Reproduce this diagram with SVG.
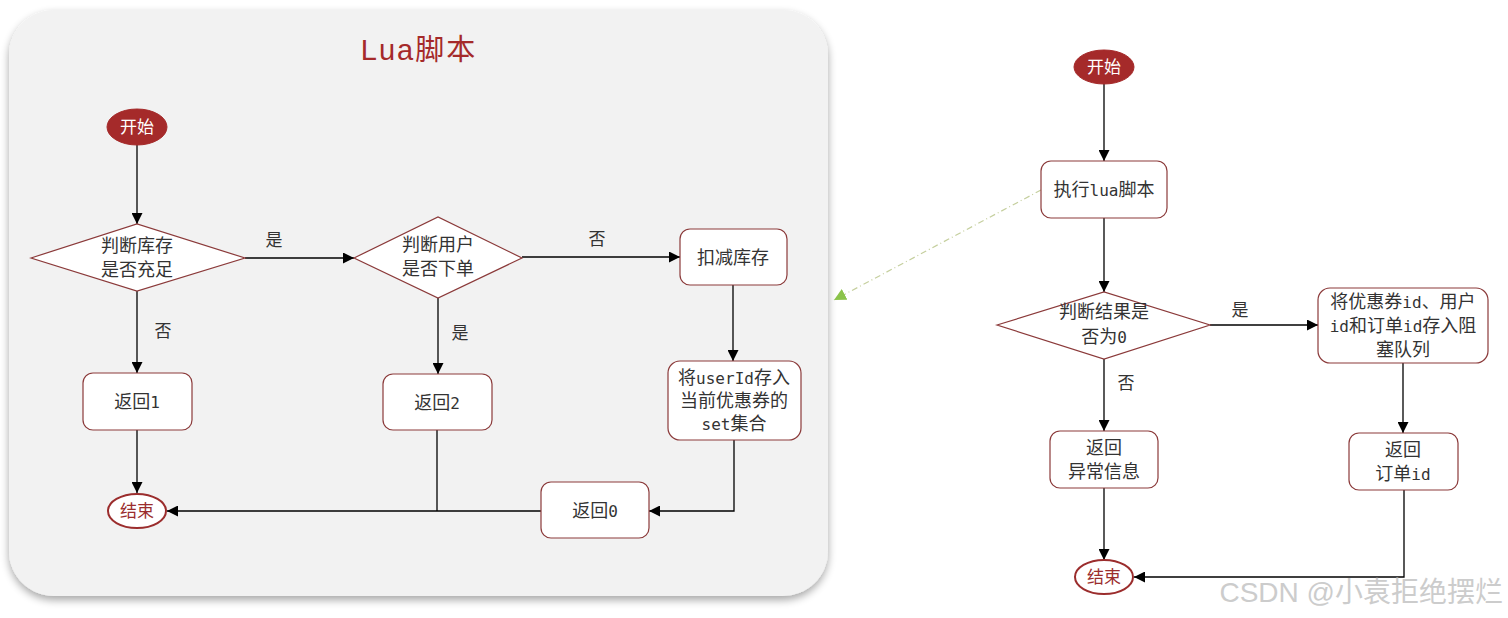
<svg xmlns="http://www.w3.org/2000/svg" width="1508" height="618" viewBox="0 0 1508 618">
<style>
.box{fill:#ffffff;stroke:#8b3a3a;stroke-width:1.2}
.dia{fill:#ffffff;stroke:#8b3a3a;stroke-width:1.2}
.t{font-family:"Noto Sans CJK SC",sans-serif;font-size:18px;fill:#333333;text-anchor:middle}
.m{font-family:"DejaVu Sans Mono","Liberation Mono",monospace;font-size:16px}
.lbl{font-family:"Noto Sans CJK SC",sans-serif;font-size:17px;fill:#333333;text-anchor:middle}
.line{fill:none;stroke:#000000;stroke-width:1.3}
.start{fill:#a52a2a;stroke:#a52a2a}
.end{fill:#ffffff;stroke:#9b2d2d;stroke-width:2}
</style>
<defs>
<marker id="arr" viewBox="0 0 10 10" refX="10" refY="5" markerWidth="11" markerHeight="11" markerUnits="userSpaceOnUse" orient="auto">
<path d="M0,0 L10,5 L0,10 z" fill="#000"/>
</marker>
<marker id="garr" viewBox="0 0 10 10" refX="10" refY="5" markerWidth="12" markerHeight="12" markerUnits="userSpaceOnUse" orient="auto">
<path d="M0,0 L10,5 L0,10 z" fill="#8bc34a"/>
</marker>
<filter id="sh" x="-5%" y="-5%" width="110%" height="112%">
<feGaussianBlur in="SourceAlpha" stdDeviation="4"/>
<feOffset dx="0" dy="4" result="b"/>
<feComponentTransfer><feFuncA type="linear" slope="0.35"/></feComponentTransfer>
<feMerge><feMergeNode/><feMergeNode in="SourceGraphic"/></feMerge>
</filter>
</defs>
<rect width="1508" height="618" fill="#ffffff"/>
<g id="panel">
<rect x="9" y="10" width="819" height="586" rx="45" ry="45" fill="#f2f2f2" filter="url(#sh)"/>
<text x="419" y="60" font-family="'Liberation Sans','Noto Sans CJK SC',sans-serif" font-size="29" fill="#a52a2a" text-anchor="middle" letter-spacing="2">Lua脚本</text>
</g>
<g id="connectors">
<path class="line" d="M137,145 V224" marker-end="url(#arr)"/>
<path class="line" d="M245,258 H354" marker-end="url(#arr)"/>
<path class="line" d="M522,257 H680" marker-end="url(#arr)"/>
<path class="line" d="M733,285 V361" marker-end="url(#arr)"/>
<path class="line" d="M137,291 V373" marker-end="url(#arr)"/>
<path class="line" d="M438,298 V374" marker-end="url(#arr)"/>
<path class="line" d="M137,430 V493" marker-end="url(#arr)"/>
<path class="line" d="M437,430 V511"/>
<path class="line" d="M541,511 H167" marker-end="url(#arr)"/>
<path class="line" d="M734,440 V511 H649" marker-end="url(#arr)"/>
<path class="line" d="M1104,84 V161" marker-end="url(#arr)"/>
<path class="line" d="M1104,218 V292" marker-end="url(#arr)"/>
<path class="line" d="M1210,325 H1318" marker-end="url(#arr)"/>
<path class="line" d="M1403,363 V433" marker-end="url(#arr)"/>
<path class="line" d="M1104,359 V431" marker-end="url(#arr)"/>
<path class="line" d="M1104,488 V560" marker-end="url(#arr)"/>
<path class="line" d="M1404,490 V577 H1134" marker-end="url(#arr)"/>
<path d="M1041,190 L834,300" fill="none" stroke="#c5cf9e" stroke-width="1.2" stroke-dasharray="6,3,1,3" marker-end="url(#garr)"/>
<text class="lbl" x="274" y="246">是</text>
<text class="lbl" x="597" y="245">否</text>
<text class="lbl" x="163" y="337">否</text>
<text class="lbl" x="460" y="339">是</text>
<text class="lbl" x="1240" y="316">是</text>
<text class="lbl" x="1126" y="389">否</text>
</g>
<g id="start1">
<ellipse class="start" cx="137" cy="127" rx="30" ry="18"/>
<text class="t" x="137" y="133" style="fill:#ffffff;font-size:17px">开始</text>
</g>
<g id="check-stock">
<polygon class="dia" points="31,258 137,224 245,258 137,291"/>
<text class="t" x="137" y="252">判断库存</text>
<text class="t" x="137" y="276">是否充足</text>
</g>
<g id="check-user">
<polygon class="dia" points="354,258 438,217 522,258 438,298"/>
<text class="t" x="438" y="251">判断用户</text>
<text class="t" x="438" y="275">是否下单</text>
</g>
<g id="deduct">
<rect class="box" x="680" y="229" width="107" height="56" rx="10"/>
<text class="t" x="733" y="264">扣减库存</text>
</g>
<g id="save-user">
<rect class="box" x="668" y="361" width="133" height="79" rx="12"/>
<text class="t" x="734" y="384">将<tspan class="m">userId</tspan>存入</text>
<text class="t" x="734" y="407">当前优惠券的</text>
<text class="t" x="734" y="430"><tspan class="m">set</tspan>集合</text>
</g>
<g id="ret1">
<rect class="box" x="83" y="373" width="109" height="57" rx="10"/>
<text class="t" x="137" y="408">返回<tspan class="m">1</tspan></text>
</g>
<g id="ret2">
<rect class="box" x="383" y="374" width="109" height="56" rx="10"/>
<text class="t" x="437" y="409">返回<tspan class="m">2</tspan></text>
</g>
<g id="ret0">
<rect class="box" x="541" y="482" width="108" height="56" rx="10"/>
<text class="t" x="595" y="517">返回<tspan class="m">0</tspan></text>
</g>
<g id="end1">
<ellipse class="end" cx="137" cy="511" rx="29" ry="17"/>
<text class="t" x="137" y="517" style="fill:#9b2d2d;font-size:17px">结束</text>
</g>
<g id="start2">
<ellipse class="start" cx="1104" cy="67" rx="30" ry="17"/>
<text class="t" x="1104" y="73" style="fill:#ffffff;font-size:17px">开始</text>
</g>
<g id="exec-lua">
<rect class="box" x="1041" y="161" width="126" height="57" rx="10"/>
<text class="t" x="1104" y="196">执行<tspan class="m">lua</tspan>脚本</text>
</g>
<g id="check-result">
<polygon class="dia" points="997,325 1104,292 1210,325 1104,359"/>
<text class="t" x="1104" y="318">判断结果是</text>
<text class="t" x="1104" y="343">否为<tspan class="m">0</tspan></text>
</g>
<g id="enqueue">
<rect class="box" x="1318" y="288" width="170" height="75" rx="12"/>
<text class="t" x="1403" y="308">将优惠券<tspan class="m">id</tspan>、用户</text>
<text class="t" x="1403" y="332"><tspan class="m">id</tspan>和订单<tspan class="m">id</tspan>存入阻</text>
<text class="t" x="1403" y="356">塞队列</text>
</g>
<g id="ret-err">
<rect class="box" x="1050" y="431" width="108" height="57" rx="10"/>
<text class="t" x="1104" y="454">返回</text>
<text class="t" x="1104" y="478">异常信息</text>
</g>
<g id="ret-order">
<rect class="box" x="1349" y="433" width="109" height="57" rx="10"/>
<text class="t" x="1403" y="456">返回</text>
<text class="t" x="1403" y="480">订单<tspan class="m">id</tspan></text>
</g>
<g id="end2">
<ellipse class="end" cx="1104" cy="577" rx="29" ry="17"/>
<text class="t" x="1104" y="583" style="fill:#9b2d2d;font-size:17px">结束</text>
</g>
<text x="1503" y="602" font-family="'Liberation Sans','Noto Sans CJK SC',sans-serif" font-size="28" fill="#cccccc" text-anchor="end">CSDN @小袁拒绝摆烂</text>
</svg>
